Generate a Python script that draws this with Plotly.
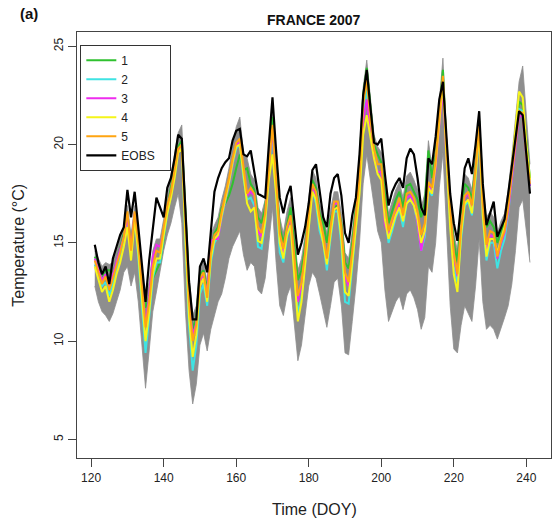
import plotly.graph_objects as go

doy = list(range(121, 242))

eobs = [14.9, 14.0, 13.4, 13.8, 12.9, 14.2, 14.8, 15.4, 15.8, 17.7,
        16.3, 17.6, 15.8, 13.9, 12.0, 14.1, 15.8, 17.3, 16.8, 16.3,
        17.8, 18.3, 19.3, 20.5, 20.3, 16.5, 13.0, 11.1, 11.1, 13.8,
        14.2, 13.5, 15.6, 17.6, 18.3, 18.8, 19.1, 19.3, 20.2, 20.7,
        20.8, 19.5, 19.4, 19.7, 18.6, 17.5, 17.4, 17.3, 20.0, 22.4,
        19.7, 17.3, 16.5, 17.4, 17.9, 16.3, 14.4, 15.0, 15.8, 17.0,
        18.7, 19.0, 17.5, 16.3, 15.8, 17.5, 18.3, 18.5, 17.4, 15.5,
        15.0, 16.4, 17.3, 19.5, 22.5, 23.8, 21.9, 20.1, 20.0, 20.3,
        18.5, 16.9, 17.6, 18.0, 18.3, 17.8, 19.3, 19.8, 19.5, 18.3,
        16.8, 16.4, 19.3, 19.0, 20.4, 22.3, 23.2, 20.3, 17.5, 16.0,
        15.1, 17.0, 18.8, 19.3, 18.5, 20.0, 21.7, 18.0, 15.9, 16.5,
        17.1, 15.3, 15.8, 16.2, 17.5, 19.0, 20.5, 21.7, 21.5, 19.5,
        17.5]

s1 = [14.3, 13.9, 13.3, 13.6, 13.6, 13.5, 14.0, 14.7, 15.4, 16.2,
      15.0, 16.3, 15.2, 13.3, 11.7, 12.3, 13.2, 13.6, 14.0, 15.2,
      16.8, 17.8, 18.8, 19.9, 20.2, 16.3, 12.8, 10.6, 11.2, 13.4,
      13.6, 12.6, 14.7, 15.5, 15.8, 16.8, 17.0, 17.4, 18.0, 18.8,
      19.5, 18.7, 18.8, 18.0, 17.7, 16.3, 16.0, 16.8, 19.2, 21.4,
      18.6, 15.8, 15.0, 16.0, 16.8, 15.0, 13.1, 13.6, 14.8, 16.8,
      18.2, 17.8, 16.5, 16.0, 15.0, 16.2, 16.8, 16.9, 16.0, 14.0,
      13.7, 15.0, 16.8, 19.0, 22.5, 23.9, 21.8, 20.0, 19.5, 19.1,
      17.5, 16.0, 16.6, 17.2, 17.6, 16.8, 17.9, 18.0, 17.6, 17.2,
      16.3, 17.0, 19.7, 18.3, 19.5, 21.8, 23.8, 19.8, 16.9, 15.0,
      14.0, 16.6, 18.0, 17.8, 17.2, 19.0, 21.2, 17.6, 15.8, 16.1,
      15.8, 15.0, 15.6, 16.0, 17.2, 18.8, 20.5, 22.2, 22.0, 20.2,
      18.3]

s2 = [13.9, 13.3, 12.8, 13.0, 12.3, 12.9, 13.6, 14.3, 15.0, 16.0,
      14.3, 16.3, 14.3, 11.8, 9.4, 11.2, 13.2, 14.0, 14.0, 15.3,
      16.5, 17.4, 18.4, 19.7, 19.9, 15.0, 10.8, 8.5, 9.8, 12.4,
      12.9, 11.8, 14.0, 15.0, 15.3, 16.3, 17.1, 18.0, 19.0, 19.8,
      20.0, 18.3, 17.2, 17.3, 16.9, 14.8, 14.7, 16.0, 18.6, 20.6,
      17.6, 14.5, 14.0, 15.3, 15.9, 13.5, 11.4, 12.2, 14.0, 16.1,
      17.7, 17.0, 15.6, 15.0, 13.6, 15.2, 16.6, 16.6, 14.9, 12.0,
      11.9, 13.8, 15.7, 17.8, 21.5, 22.8, 20.8, 19.5, 18.6, 18.6,
      16.5, 15.0, 15.6, 16.3, 16.7, 15.8, 17.1, 17.2, 16.9, 16.0,
      14.6, 15.3, 17.7, 17.4, 19.0, 21.2, 23.3, 19.4, 16.0, 13.8,
      13.0, 15.2, 16.9, 17.1, 16.4, 18.3, 20.6, 16.3, 14.1, 15.0,
      15.0, 13.7, 14.6, 15.2, 16.5, 18.2, 20.0, 21.8, 21.7, 19.6,
      17.9]

s3 = [14.2, 13.6, 13.1, 13.4, 12.8, 13.4, 14.0, 14.6, 15.3, 16.3,
      14.8, 16.5, 15.0, 12.9, 10.8, 12.3, 14.3, 14.9, 14.8, 15.6,
      16.8, 17.5, 18.5, 19.7, 20.0, 15.9, 12.1, 10.3, 10.9, 13.1,
      13.3, 12.4, 15.1, 15.2, 15.2, 16.4, 17.2, 18.1, 19.1, 20.0,
      20.1, 18.6, 17.4, 17.6, 17.4, 15.6, 15.3, 16.4, 18.9, 20.8,
      18.0, 15.3, 14.5, 15.7, 16.3, 14.0, 12.0, 12.8, 14.4, 16.4,
      17.9, 17.4, 16.1, 15.3, 14.0, 15.6, 17.0, 17.0, 15.6, 13.3,
      12.8, 14.5, 16.2, 18.2, 21.2, 22.3, 20.6, 19.3, 18.6, 18.6,
      15.9, 15.4, 16.0, 16.6, 17.1, 16.2, 17.3, 17.4, 17.1, 16.0,
      14.6, 15.6, 18.0, 17.5, 18.8, 21.0, 22.8, 19.2, 16.5, 14.3,
      13.3, 15.7, 17.3, 17.5, 16.8, 18.6, 20.8, 16.8, 14.6, 15.4,
      15.3, 14.2, 15.0, 15.5, 16.6, 18.3, 20.0, 21.5, 21.4, 19.4,
      17.9]

s4 = [13.8, 13.2, 12.5, 12.8, 12.0, 12.6, 13.4, 14.0, 14.8, 15.8,
      14.1, 16.2, 14.5, 12.2, 10.0, 11.5, 13.4, 14.2, 14.2, 15.4,
      16.5, 17.3, 18.3, 19.6, 19.8, 15.2, 11.2, 9.2, 10.3, 12.8,
      13.2, 12.0, 14.2, 15.2, 15.4, 16.4, 17.2, 18.1, 19.1, 19.9,
      20.0, 18.4, 17.0, 16.6, 16.8, 15.1, 15.0, 16.1, 18.2, 19.5,
      17.5, 15.0, 14.2, 15.4, 15.9, 13.4, 11.0, 12.0, 13.9, 16.0,
      17.6, 17.2, 15.9, 15.0, 13.9, 15.4, 16.7, 16.8, 15.2, 12.5,
      12.3, 14.0, 15.8, 17.5, 20.5, 21.5, 20.4, 19.3, 18.5, 18.2,
      16.2, 15.2, 15.8, 16.4, 16.8, 16.1, 17.0, 17.2, 16.9, 16.2,
      15.0, 15.6, 17.8, 17.5, 19.0, 21.2, 23.2, 19.2, 15.8, 13.4,
      12.5, 15.4, 17.0, 17.2, 16.5, 18.4, 20.6, 16.4, 14.3, 15.2,
      15.2, 14.5, 15.2, 15.8, 17.0, 18.8, 20.8, 22.7, 22.4, 20.0,
      18.2]

s5 = [14.1, 13.5, 12.9, 13.3, 12.6, 13.2, 13.8, 14.5, 15.3, 16.6,
      14.6, 16.6, 15.0, 12.8, 10.7, 12.0, 13.8, 14.6, 14.5, 15.8,
      16.9, 17.6, 18.6, 19.8, 20.0, 15.8, 12.0, 10.0, 10.8, 13.2,
      13.5, 12.2, 14.5, 15.4, 15.6, 16.6, 17.4, 18.3, 19.3, 20.1,
      20.3, 18.8, 17.5, 17.8, 17.5, 15.8, 15.5, 16.5, 19.0, 21.0,
      18.2, 15.5, 14.7, 15.8, 16.4, 14.2, 12.3, 13.0, 14.5, 16.5,
      18.0, 17.6, 16.3, 15.4, 14.2, 15.8, 17.1, 17.1, 15.8, 13.5,
      13.0, 14.6, 16.3, 18.3, 22.0, 23.3, 21.3, 19.8, 19.0, 19.0,
      17.0, 15.6, 16.2, 16.8, 17.3, 16.4, 17.5, 17.6, 17.3, 16.6,
      15.4, 16.0, 18.1, 17.8, 19.2, 21.5, 23.5, 19.8, 16.8, 14.5,
      13.4, 15.8, 17.4, 17.6, 16.9, 18.8, 21.0, 17.0, 14.9, 15.6,
      15.5, 14.3, 15.1, 15.6, 16.8, 18.5, 20.2, 21.7, 21.6, 19.5,
      18.0]

ens_high = [14.6, 14.2, 13.8, 14.0, 13.9, 14.0, 14.6, 15.2, 15.8, 16.9,
            15.4, 16.9, 15.6, 13.6, 12.2, 13.0, 14.6, 15.2, 15.2, 16.2,
            17.3, 18.2, 19.3, 20.6, 21.0, 17.0, 13.4, 11.3, 11.8, 13.8,
            14.0, 13.0, 15.4, 15.9, 16.3, 17.2, 17.9, 18.8, 19.9, 20.9,
            21.4, 19.6, 19.3, 18.5, 18.2, 16.8, 16.5, 17.2, 19.7, 21.8,
            19.0, 16.3, 15.5, 16.6, 17.3, 15.5, 13.6, 14.2, 15.4, 17.3,
            18.7, 18.3, 17.0, 16.4, 15.5, 16.7, 17.6, 17.6, 16.5, 14.5,
            14.2, 15.6, 17.3, 19.5, 22.9, 24.3, 22.3, 20.5, 19.9, 19.6,
            18.0, 16.5, 17.1, 17.7, 18.1, 17.3, 18.4, 18.6, 18.2, 17.7,
            16.8, 17.5, 20.2, 18.8, 20.0, 22.3, 24.4, 20.4, 17.4, 15.5,
            14.6, 17.1, 18.5, 18.3, 17.7, 19.5, 21.7, 18.1, 16.3, 16.6,
            16.3, 15.5, 16.1, 16.5, 17.7, 19.4, 21.2, 23.2, 24.0, 21.5,
            19.0]

ens_low = [12.8, 12.0, 11.5, 11.3, 11.0, 11.4, 12.0, 12.6, 13.5, 13.8,
           12.8, 13.5, 12.0, 9.8, 7.6, 9.5, 11.5, 12.5, 13.6, 14.6,
           15.4, 16.0, 16.8, 17.5, 16.0, 11.5, 8.5, 6.8, 7.8, 9.8,
           10.4, 9.5, 10.6, 11.3, 12.0, 12.4, 13.2, 14.2, 14.8, 15.2,
           15.6, 14.4, 13.6, 14.0, 13.8, 12.6, 12.4, 13.2, 15.0, 16.8,
           14.0, 11.8, 11.3, 12.3, 12.8, 10.8, 9.0, 9.8, 11.2, 12.8,
           13.5, 13.2, 12.4, 11.6, 10.7, 11.8, 13.0, 13.2, 11.8, 9.4,
           9.3, 11.0, 12.8, 15.0, 18.0, 19.5, 18.2, 16.8, 15.6, 15.0,
           12.6, 11.0, 11.5, 12.0, 12.3, 11.6, 12.4, 12.6, 12.2, 11.6,
           10.6, 11.2, 13.8, 13.5, 15.0, 17.8, 19.6, 15.6, 11.8, 9.6,
           9.4, 10.8, 11.8, 11.4, 11.0, 12.8, 15.2, 12.0, 10.6, 10.8,
           10.6, 10.1, 10.6, 11.2, 11.8, 12.9, 14.6, 16.8, 17.2, 15.6,
           14.0]

series_names = ["1", "2", "3", "4", "5"]
series_values = [s1, s2, s3, s4, s5]
series_colors = ["#2fc12f", "#3fe3e3", "#ee2cee", "#f5f51a", "#ffa512"]

x_ticks = [120, 140, 160, 180, 200, 220, 240]
y_ticks = [5, 10, 15, 20, 25]

FONT = "Liberation Sans, Arial, sans-serif"
GRAY = "#8e8e8e"

fig = go.Figure()
fig.add_trace(go.Scatter(x=doy, y=ens_low, mode="lines",
                         line=dict(color=GRAY, width=0.8),
                         showlegend=False, hoverinfo="skip"))
fig.add_trace(go.Scatter(x=doy, y=ens_high, mode="lines",
                         line=dict(color=GRAY, width=0.8),
                         fill="tonexty", fillcolor=GRAY,
                         showlegend=False, hoverinfo="skip"))

for name, vals, col in zip(series_names, series_values, series_colors):
    fig.add_trace(go.Scatter(x=doy, y=vals, mode="lines", name=name,
                             line=dict(color=col, width=2)))

fig.add_trace(go.Scatter(x=doy, y=eobs, mode="lines",
                         name="EOBS\u00a0\u00a0\u00a0",
                         line=dict(color="#000000", width=2.2)))

axis_common = dict(
    showgrid=False, zeroline=False, showline=True, mirror=True,
    linecolor="#444444", linewidth=1.2,
    ticks="outside", ticklen=8, tickwidth=1.2, tickcolor="#444444",
    tickfont=dict(family=FONT, size=12, color="#222222"),
)

fig.update_layout(
    width=552, height=522,
    margin=dict(l=77, r=1, t=32, b=64),
    paper_bgcolor="white", plot_bgcolor="white",
    font=dict(family=FONT, color="#222222"),
    xaxis=dict(range=[116.1, 246.8], tickmode="array", tickvals=x_ticks,
               **axis_common),
    yaxis=dict(range=[4.05, 25.73], tickmode="array", tickvals=y_ticks,
               tickangle=-90, **axis_common),
    legend=dict(x=0.007, y=0.97, xanchor="left", yanchor="top",
                traceorder="normal",
                bgcolor="white", bordercolor="#333333", borderwidth=1,
                font=dict(family=FONT, size=12, color="#222222"),
                tracegroupgap=0),
    showlegend=True,
    annotations=[
        dict(text="<b>FRANCE 2007</b>", xref="paper", yref="paper",
             x=0.5, y=1.028, xanchor="center", yanchor="middle",
             showarrow=False, font=dict(family=FONT, size=14, color="#111111")),
        dict(text="<b>(a)</b>", xref="paper", yref="paper",
             x=-0.125, y=1.043, xanchor="left", yanchor="middle",
             showarrow=False, font=dict(family=FONT, size=15, color="#111111")),
        dict(text="Time (DOY)", xref="paper", yref="paper",
             x=0.5, y=-0.122, xanchor="center", yanchor="middle",
             showarrow=False, font=dict(family=FONT, size=16, color="#222222")),
        dict(text="Temperature (°C)", xref="paper", yref="paper",
             x=-0.125, y=0.5, xanchor="center", yanchor="middle",
             textangle=-90, showarrow=False,
             font=dict(family=FONT, size=16, color="#222222")),
    ],
)

fig.write_html("out.html")
